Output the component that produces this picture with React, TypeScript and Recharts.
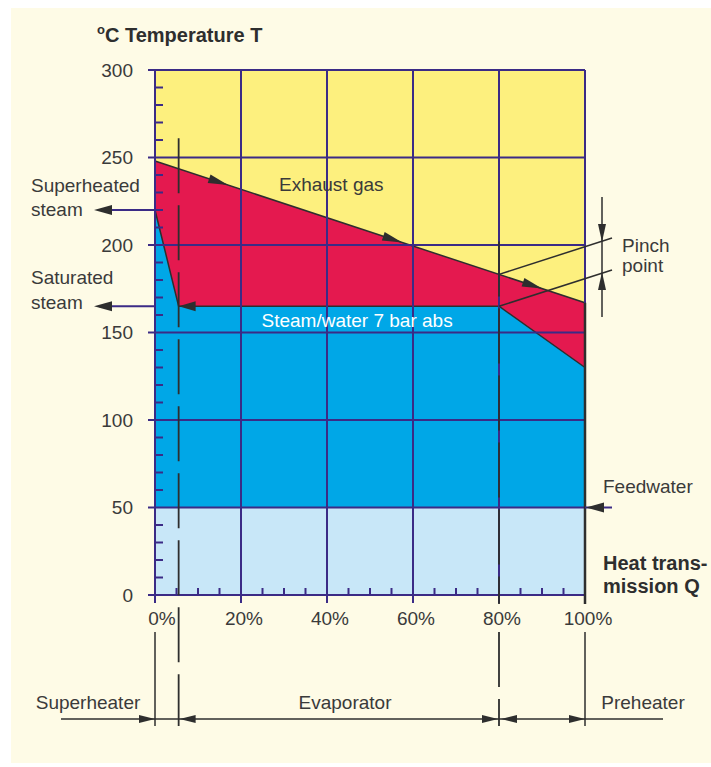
import { ComposedChart, Area, XAxis, YAxis, ReferenceLine } from "recharts";

// heat transmission share (%) and temperatures (°C)
const heatShare = [0, 100];
const exhaustTemp = [248, 167];
const steamShare = [0, 5.5, 80, 100];
const steamTemp = [220, 165, 165, 130];
const feedwaterTemp = [50, 50];
const topTemp = [300, 300];

const tempLabels = [0, 50, 100, 150, 200, 250, 300];
const tempTicks = [0, 10, 20, 30, 40, 50, 60, 70, 80, 90, 100, 110, 120, 130, 140, 150, 160, 170, 180, 190, 200, 210, 220, 230, 240, 250, 260, 270, 280, 290, 300];
const shareLabels = [0, 20, 40, 60, 80, 100];
const shareTicks = [0, 5, 10, 15, 20, 25, 30, 35, 40, 45, 50, 55, 60, 65, 70, 75, 80, 85, 90, 95, 100];
const exhaustArrowAt = [17, 57.5, 90];

const superheaterEnd = steamShare[1];
const evaporatorEnd = steamShare[2];
const superheatedTemp = steamTemp[0];
const saturatedTemp = steamTemp[1];

const YELLOW = "#fdf07e";
const RED = "#e4194f";
const BLUE = "#00a7e7";
const LIGHT_BLUE = "#c8e7f8";
const GRID = "#3b2b86";
const DARK = "#2e2e2e";
const TEXT = "#3a3a3a";
const BG = "#fefbe6";
const FONT = "'Liberation Sans', Arial, Helvetica, sans-serif";

const W = 700;
const H = 755;
const margin = { top: 62, right: 126, bottom: 128, left: 84 };
const Y_W = 60;
const X_H = 40;
const PL = margin.left + Y_W;
const PT = margin.top;
const PW = W - PL - margin.right;
const PH = H - PT - margin.bottom - X_H;
const px = (q: number) => PL + (q / 100) * PW;
const py = (t: number) => PT + ((300 - t) / 300) * PH;

const toRows = (xs: number[], ts: number[]) => xs.map((q, i) => ({ q, t: ts[i] }));
const topRows = toRows(heatShare, topTemp);
const exhaustRows = toRows(heatShare, exhaustTemp);
const steamRows = toRows(steamShare, steamTemp);
const feedRows = toRows(heatShare, feedwaterTemp);

function head(tx: number, ty: number, dx: number, dy: number, len = 17, hw = 5) {
  const n = Math.hypot(dx, dy);
  const ux = dx / n;
  const uy = dy / n;
  const bx = tx - ux * len;
  const by = ty - uy * len;
  return (
    <polygon
      points={`${tx},${ty} ${bx - uy * hw},${by + ux * hw} ${bx + uy * hw},${by - ux * hw}`}
      fill={DARK}
    />
  );
}

const YTick = (props: any) => {
  const { y, payload } = props;
  const v = payload.value;
  if (tempLabels.includes(v)) {
    return (
      <g>
        <line x1={PL - 7} x2={PL} y1={y} y2={y} stroke={GRID} strokeWidth={2} />
        <text x={PL - 22} y={y} dy="0.36em" textAnchor="end" fontSize={19} fill={TEXT} fontFamily={FONT}>
          {v}
        </text>
      </g>
    );
  }
  return <line x1={PL} x2={PL + 8} y1={y} y2={y} stroke={GRID} strokeWidth={2} />;
};

const XTick = (props: any) => {
  const { x, payload } = props;
  const v = payload.value;
  const base = PT + PH;
  if (shareLabels.includes(v)) {
    return (
      <g>
        <line x1={x} x2={x} y1={base} y2={base + 8} stroke={GRID} strokeWidth={2} />
        <text x={x + (v === 0 ? 7 : 3)} y={base + 30} textAnchor="middle" fontSize={19} fill={TEXT} fontFamily={FONT}>
          {v}%
        </text>
      </g>
    );
  }
  return <line x1={x} x2={x} y1={base} y2={base - 7} stroke={GRID} strokeWidth={2} />;
};

export default function App() {
  const ex0 = exhaustTemp[0];
  const ex1 = exhaustTemp[1];
  const exDx = px(100) - px(0);
  const exDy = py(ex1) - py(ex0);
  const pinchTemp = ex0 + ((ex1 - ex0) * evaporatorEnd) / 100;
  const zoneY = 711;
  const txt = { fontFamily: FONT, fontSize: 19, fill: TEXT };

  return (
    <div style={{ position: "absolute", left: 11, top: 8, width: W, height: H, background: BG }}>
      <ComposedChart width={W} height={H} margin={margin}>
        <XAxis
          dataKey="q"
          type="number"
          domain={[0, 100]}
          ticks={shareTicks}
          interval={0}
          height={X_H}
          axisLine={{ stroke: GRID, strokeWidth: 2 }}
          tickLine={false}
          tick={<XTick />}
        />
        <YAxis
          type="number"
          domain={[0, 300]}
          ticks={tempTicks}
          interval={0}
          width={Y_W}
          axisLine={{ stroke: GRID, strokeWidth: 2 }}
          tickLine={false}
          tick={<YTick />}
        />
        <Area data={topRows} dataKey="t" type="linear" fill={YELLOW} fillOpacity={1} stroke="none" isAnimationActive={false} />
        <Area data={exhaustRows} dataKey="t" type="linear" fill={RED} fillOpacity={1} stroke={DARK} strokeWidth={1.5} isAnimationActive={false} />
        <Area data={steamRows} dataKey="t" type="linear" fill={BLUE} fillOpacity={1} stroke={DARK} strokeWidth={1.5} isAnimationActive={false} />
        <Area data={feedRows} dataKey="t" type="linear" fill={LIGHT_BLUE} fillOpacity={1} stroke="none" isAnimationActive={false} />
        {shareLabels.slice(1).map((v) => (
          <ReferenceLine key={`x${v}`} x={v} stroke={GRID} strokeWidth={2} />
        ))}
        {tempLabels.slice(1).map((v) => (
          <ReferenceLine key={`y${v}`} y={v} stroke={GRID} strokeWidth={2} />
        ))}
      </ComposedChart>

      <svg width={W} height={H} style={{ position: "absolute", left: 0, top: 0, pointerEvents: "none" }}>
        {/* axis title */}
        <text x={86} y={34} fontFamily={FONT} fontWeight="bold" fontSize={20} fill={DARK}>
          <tspan fontSize={13} dy={-8}>o</tspan>
          <tspan dy={8}>C Temperature T</tspan>
        </text>

        {/* in-plot labels */}
        <text x={268} y={183} {...txt}>Exhaust gas</text>
        <text x={px(47)} y={319} {...txt} fill="#ffffff" textAnchor="middle">Steam/water 7 bar abs</text>

        {/* exhaust direction arrows */}
        {exhaustArrowAt.map((q) => (
          <g key={q}>{head(px(q), py(ex0 + ((ex1 - ex0) * q) / 100), exDx, exDy, 20, 4.5)}</g>
        ))}
        {head(px(superheaterEnd), py(saturatedTemp), -1, 0, 17, 5)}

        {/* dashed zone boundaries */}
        <line x1={px(superheaterEnd)} x2={px(superheaterEnd)} y1={py(261)} y2={718} stroke={DARK} strokeWidth={1.8} strokeDasharray="55 12" />
        <line x1={px(evaporatorEnd)} x2={px(evaporatorEnd)} y1={py(202)} y2={py(0) + 9} stroke={DARK} strokeWidth={1.8} strokeDasharray="55 12" />
        <line x1={px(evaporatorEnd)} x2={px(evaporatorEnd)} y1={624} y2={718} stroke={DARK} strokeWidth={1.8} strokeDasharray="55 12" />
        <line x1={px(100)} x2={px(100)} y1={py(ex1)} y2={py(0) + 9} stroke={DARK} strokeWidth={2.5} />
        <line x1={px(100)} x2={px(100)} y1={624} y2={718} stroke={DARK} strokeWidth={1.5} />
        <line x1={px(0)} x2={px(0)} y1={624} y2={718} stroke={DARK} strokeWidth={1.5} />

        {/* left steam annotations */}
        <text x={20} y={184} {...txt}>Superheated</text>
        <text x={20} y={208} {...txt}>steam</text>
        <line x1={px(0)} x2={88} y1={py(superheatedTemp)} y2={py(superheatedTemp)} stroke={GRID} strokeWidth={2} />
        {head(83, py(superheatedTemp), -1, 0, 18, 5)}
        <text x={20} y={276} {...txt}>Saturated</text>
        <text x={20} y={301} {...txt}>steam</text>
        <line x1={px(0)} x2={88} y1={py(saturatedTemp)} y2={py(saturatedTemp)} stroke={GRID} strokeWidth={2} />
        {head(83, py(saturatedTemp), -1, 0, 18, 5)}

        {/* pinch point */}
        <line x1={px(evaporatorEnd)} y1={py(pinchTemp)} x2={601} y2={230} stroke={DARK} strokeWidth={1.5} />
        <line x1={px(evaporatorEnd)} y1={py(saturatedTemp)} x2={601} y2={262} stroke={DARK} strokeWidth={1.5} />
        <line x1={591} x2={591} y1={189} y2={309} stroke={DARK} strokeWidth={1.5} />
        {head(591, 234, 0, 1, 18, 4)}
        {head(591, 264, 0, -1, 18, 4)}
        <text x={611} y={244} {...txt}>Pinch</text>
        <text x={611} y={264} {...txt}>point</text>

        {/* feedwater */}
        <line x1={px(100)} x2={601} y1={py(feedwaterTemp[0])} y2={py(feedwaterTemp[0])} stroke={GRID} strokeWidth={2} />
        {head(px(100) + 1, py(feedwaterTemp[0]), -1, 0, 18, 5)}
        <text x={592} y={485} {...txt}>Feedwater</text>
        <text x={592} y={562} fontFamily={FONT} fontWeight="bold" fontSize={20} fill={DARK}>Heat trans-</text>
        <text x={592} y={585} fontFamily={FONT} fontWeight="bold" fontSize={20} fill={DARK}>mission Q</text>

        {/* zones */}
        <line x1={50} x2={652} y1={zoneY} y2={zoneY} stroke={DARK} strokeWidth={1.5} />
        {head(px(0), zoneY, 1, 0, 16, 4)}
        {head(px(superheaterEnd) + 1, zoneY, -1, 0, 16, 4)}
        {head(px(evaporatorEnd) - 1, zoneY, 1, 0, 16, 4)}
        {head(px(evaporatorEnd) + 2, zoneY, -1, 0, 16, 4)}
        {head(px(100), zoneY, 1, 0, 16, 4)}
        <text x={77} y={701} {...txt} textAnchor="middle">Superheater</text>
        <text x={334} y={701} {...txt} textAnchor="middle">Evaporator</text>
        <text x={632} y={701} {...txt} textAnchor="middle">Preheater</text>
      </svg>
    </div>
  );
}
